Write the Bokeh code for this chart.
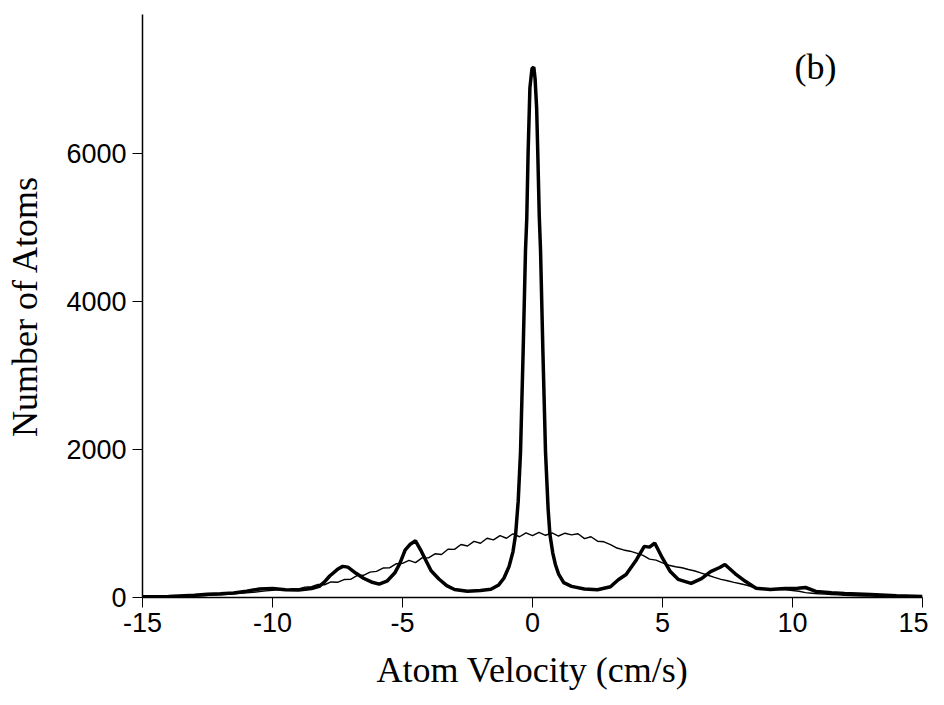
import numpy as np
from bokeh.plotting import figure
from bokeh.models import Range1d, FixedTicker, Label, PrintfTickFormatter
from bokeh.embed import file_html
from bokeh.resources import INLINE

# Thin curve: velocity grid (cm/s) and atom counts
thin_v = np.arange(-15, 15.001, 0.25)
thin_n = [5, 6, 8, 9, 11, 13, 15, 18, 21, 24, 28, 33,
          38, 42, 49, 55, 62, 70, 80, 90, 98, 108, 96, 118,
          115, 140, 145, 175, 172, 210, 205, 242, 245, 295, 300, 342,
          352, 398, 400, 455, 460, 500, 470, 535, 535, 590, 580, 652,
          650, 715, 695, 758, 732, 800, 778, 835, 800, 860, 820, 872,
          835,
          880, 840, 872, 830, 868, 845, 860, 795, 820, 760, 752, 715,
          668, 642, 625, 598, 568, 518, 505, 468, 435, 415, 402, 378,
          358, 328, 300, 272, 245, 226, 205, 186, 165, 138, 126, 114,
          112, 106, 104, 94, 84, 66, 58, 50, 45, 40, 35, 30,
          27, 24, 21, 19, 17, 15, 13, 11, 9, 8, 6, 5]

# Thick curve
thick_v = [-15, -14, -13, -12.5, -12, -11.5, -11, -10.5, -10, -9.5, -9, -8.5, -8.2, -8,
           -7.8, -7.5, -7.3, -7.1, -6.8, -6.5, -6.2, -5.9, -5.6, -5.3, -5.1, -4.9, -4.7,
           -4.5, -4.3, -4.1, -3.9, -3.6, -3.3, -3, -2.5, -2, -1.6, -1.3, -1.1, -0.9, -0.75,
           -0.65, -0.55, -0.46, -0.36, -0.27, -0.22, -0.17, -0.1, -0.02, 0.05, 0.1, 0.16,
           0.21, 0.26, 0.31, 0.4, 0.5, 0.6, 0.67, 0.78, 0.88, 1.0, 1.2, 1.5, 2, 2.5, 3,
           3.3, 3.6, 4, 4.3, 4.5, 4.7, 5, 5.3, 5.6, 6.1, 6.5, 6.85, 7.2, 7.4, 7.8, 8.2,
           8.6, 9.15, 9.7, 10.2, 10.5, 10.9, 11.5, 12, 13, 14, 15]
thick_n = [10, 15, 30, 45, 50, 60, 85, 115, 122, 105, 100, 120, 150, 210,
           290, 380, 420, 410, 330, 260, 210, 180, 220, 330, 460, 640, 720,
           765, 640, 500, 360, 250, 160, 108, 85, 95, 110, 170, 260, 420, 620,
           850, 1300, 1970, 3320, 4675, 5120, 5985, 6880, 7140, 7160, 7000, 6600,
           5900, 5150, 4675, 3320, 1970, 1200, 850, 600, 446, 320, 200, 150, 115, 105, 145,
           240, 310, 510, 690, 680, 735, 530, 350, 245, 190, 255, 350, 405, 446, 320, 215,
           125, 108, 122, 125, 135, 82, 65, 55, 40, 25, 12]

x_ticks = [-15, -10, -5, 0, 5, 10, 15]
y_ticks = [0, 2000, 4000, 6000]

p = figure(width=928, height=692, output_backend="svg", toolbar_location=None,
           x_range=Range1d(-15, 15), y_range=Range1d(0, 7870),
           min_border_left=142, min_border_right=6, min_border_top=14,
           min_border_bottom=90)
p.outline_line_color = None
p.xgrid.visible = False
p.ygrid.visible = False
p.background_fill_color = "white"
p.border_fill_color = "white"

p.line(thin_v, thin_n, line_color="black", line_width=1.4)
p.line(thick_v, thick_n, line_color="black", line_width=3.5)

for ax, ticks in ((p.xaxis[0], x_ticks), (p.yaxis[0], y_ticks)):
    ax.ticker = FixedTicker(ticks=ticks)
    ax.formatter = PrintfTickFormatter(format="%d")
    ax.minor_tick_line_color = None
    ax.major_tick_in = 0
    ax.major_tick_out = 10
    ax.major_tick_line_color = "black"
    ax.major_tick_line_width = 1
    ax.axis_line_color = "black"
    ax.axis_line_width = 1.5
    ax.major_label_text_font = "Liberation Sans"
    ax.major_label_text_font_size = "27px"
    ax.major_label_text_color = "black"
    ax.axis_label_text_font = "Liberation Serif"
    ax.axis_label_text_font_size = "36px"
    ax.axis_label_text_font_style = "normal"
    ax.axis_label_text_color = "black"

p.xaxis[0].axis_label = "Atom Velocity (cm/s)"
p.yaxis[0].axis_label = "Number of Atoms"
p.xaxis[0].major_label_standoff = 5
p.yaxis[0].major_label_standoff = 6
p.xaxis[0].axis_label_standoff = 15
p.yaxis[0].axis_label_standoff = 18

p.add_layout(Label(x=10.88, y=7160, text="(b)", text_font="Liberation Serif",
                   text_font_size="36px", text_align="center",
                   text_baseline="middle", text_color="black"))

open("out.html", "w").write(file_html(p, INLINE))
